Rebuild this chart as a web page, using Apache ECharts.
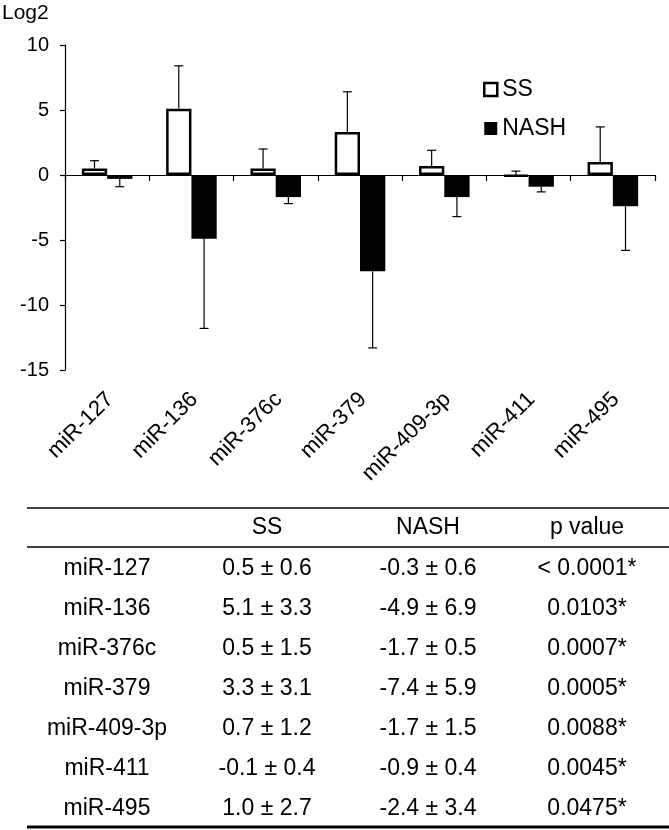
<!DOCTYPE html>
<html>
<head>
<meta charset="utf-8">
<script src="https://cdn.jsdelivr.net/npm/echarts@6/dist/echarts.min.js"></script>
<style>
  body {margin:0;padding:0;overflow:hidden;background:#fff;}
  #main {width:669px;height:830px;}
</style>
</head>
<body>
<div id="main"></div>
<script>
// data
const categories = ['miR-127', 'miR-136', 'miR-376c', 'miR-379', 'miR-409-3p', 'miR-411', 'miR-495'];
const ssMean = [0.5, 5.1, 0.5, 3.3, 0.7, -0.1, 1.0];
const ssSd = [0.6, 3.3, 1.5, 3.1, 1.2, 0.4, 2.7];
const nashMean = [-0.3, -4.9, -1.7, -7.4, -1.7, -0.9, -2.4];
const nashSd = [0.6, 6.9, 0.5, 5.9, 1.5, 0.4, 3.4];
const pValues = ['< 0.0001*', '0.0103*', '0.0007*', '0.0005*', '0.0088*', '0.0045*', '0.0475*'];
const tableHeader = ['', 'SS', 'NASH', 'p value'];

const FONT = '"Liberation Sans", Arial, sans-serif';
const chart = echarts.init(document.getElementById('main'));

// error bar drawer: dir +1 = up, -1 = down; side -1 = left bar, +1 = right bar
function errorBar(dir, side) {
  return function (params, api) {
    const i = api.value(0), m = api.value(1), sd = api.value(2);
    const band = api.size([1, 0])[0];
    const x = api.coord([i, m])[0] + side * band * 0.15;
    const y0 = api.coord([i, m])[1];
    const y1 = api.coord([i, m + dir * sd])[1];
    const st = {stroke: '#000', lineWidth: 1.2};
    return {
      type: 'group',
      children: [
        {type: 'line', shape: {x1: x, y1: y0, x2: x, y2: y1}, style: st},
        {type: 'line', shape: {x1: x - 4.5, y1: y1, x2: x + 4.5, y2: y1}, style: st}
      ]
    };
  };
}

// table below the chart
const colX = [107, 267, 428, 587];
const headY = 528, rowY0 = 569, rowStep = 40;
const tableEls = [];
tableEls.push({type: 'line', shape: {x1: 27, y1: 508, x2: 669, y2: 508}, style: {stroke: '#000', lineWidth: 1.5}});
tableEls.push({type: 'line', shape: {x1: 27, y1: 547, x2: 669, y2: 547}, style: {stroke: '#000', lineWidth: 1.5}});
tableEls.push({type: 'line', shape: {x1: 27, y1: 827, x2: 669, y2: 827}, style: {stroke: '#000', lineWidth: 3}});
tableHeader.forEach(function (t, c) {
  tableEls.push({type: 'text', x: colX[c], y: headY,
    style: {text: t, font: '23px ' + FONT, fill: '#000', align: 'center', verticalAlign: 'middle'}});
});
categories.forEach(function (name, r) {
  const cells = [
    name,
    ssMean[r].toFixed(1) + ' ± ' + ssSd[r].toFixed(1),
    nashMean[r].toFixed(1) + ' ± ' + nashSd[r].toFixed(1),
    pValues[r]
  ];
  cells.forEach(function (t, c) {
    tableEls.push({type: 'text', x: colX[c], y: rowY0 + r * rowStep,
      style: {text: t, font: '23px ' + FONT, fill: '#000', align: 'center', verticalAlign: 'middle'}});
  });
});

const option = {
  animation: false,
  backgroundColor: '#fff',
  textStyle: {fontFamily: FONT},
  title: {
    text: 'Log2', left: 2, top: 3, padding: 0,
    textStyle: {fontSize: 21, fontWeight: 'normal', color: '#000', fontFamily: FONT}
  },
  legend: {
    orient: 'vertical', left: 478, top: 73, itemGap: 16,
    itemWidth: 13, itemHeight: 13, itemTextGap: 4,
    textStyle: {fontSize: 23, color: '#000', fontFamily: FONT},
    data: [
      {name: 'SS', icon: 'rect', itemStyle: {color: '#fff', borderColor: '#000', borderWidth: 2.5}},
      {name: 'NASH', icon: 'rect', itemStyle: {color: '#000', borderWidth: 0}}
    ]
  },
  grid: [
    {left: 65, right: 14, top: 45, bottom: 460},
    {left: 68, right: 11, top: 45, bottom: 460}
  ],
  xAxis: [
    {
      type: 'category', data: categories, gridIndex: 0,
      axisLine: {onZero: true, lineStyle: {color: '#000', width: 1.2}},
      axisTick: {show: true, length: 6, lineStyle: {color: '#000', width: 1.2}},
      axisLabel: {show: false}
    },
    {
      type: 'category', data: categories, gridIndex: 1, position: 'bottom',
      axisLine: {show: false, onZero: false},
      axisTick: {show: false},
      axisLabel: {rotate: 45, margin: 26, fontSize: 22, color: '#000', fontFamily: FONT, interval: 0}
    }
  ],
  yAxis: [
    {
      type: 'value', gridIndex: 0, min: -15, max: 10, interval: 5,
      splitLine: {show: false},
      axisLine: {show: true, lineStyle: {color: '#000', width: 1.2}},
      axisTick: {show: true, length: 5, lineStyle: {color: '#000', width: 1.2}},
      axisLabel: {fontSize: 20, color: '#000', margin: 16, fontFamily: FONT}
    },
    {type: 'value', gridIndex: 1, min: -15, max: 10, show: false}
  ],
  series: [
    {
      name: 'SS', type: 'bar', data: ssMean, barWidth: '30%', barGap: '0%',
      itemStyle: {color: '#fff', borderColor: '#000', borderWidth: 2.5}
    },
    {
      name: 'NASH', type: 'bar', data: nashMean, barWidth: '30%', barGap: '0%',
      itemStyle: {color: '#000', borderColor: '#000', borderWidth: 0}
    },
    {
      type: 'custom', renderItem: errorBar(1, -1), z: 3,
      encode: {x: 0, y: 1},
      data: ssMean.map(function (m, i) { return [i, m, ssSd[i]]; })
    },
    {
      type: 'custom', renderItem: errorBar(-1, 1), z: 3,
      encode: {x: 0, y: 1},
      data: nashMean.map(function (m, i) { return [i, m, nashSd[i]]; })
    }
  ],
  graphic: tableEls
};

chart.setOption(option);
</script>
</body>
</html>
